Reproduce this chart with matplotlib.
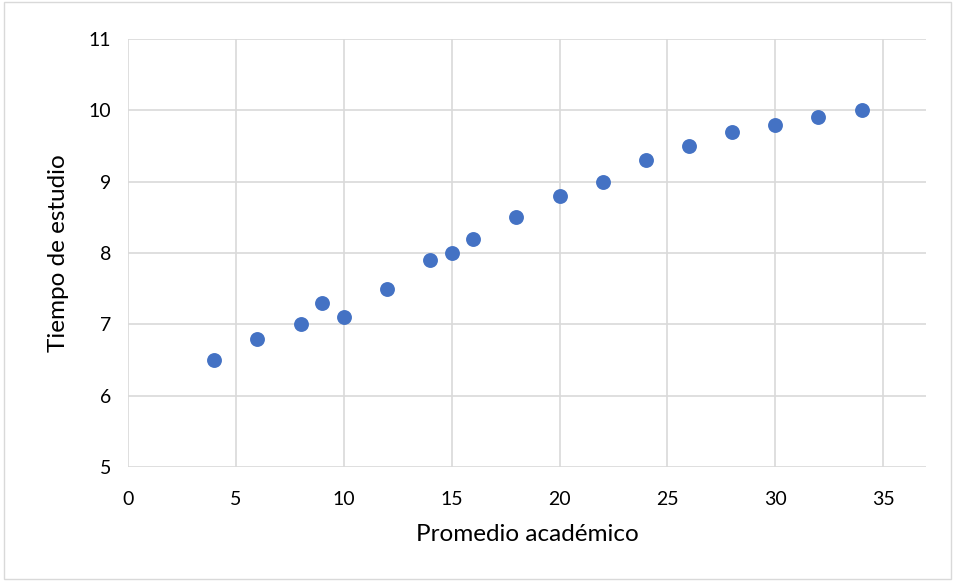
import matplotlib.pyplot as plt
from matplotlib.patches import Rectangle

plt.rcParams['font.family'] = ['Lato', 'DejaVu Sans']

promedio = [4, 6, 8, 9, 10, 12, 14, 15, 16, 18, 20, 22, 24, 26, 28, 30, 32, 34]
tiempo = [6.5, 6.8, 7.0, 7.3, 7.1, 7.5, 7.9, 8.0, 8.2, 8.5, 8.8, 9.0, 9.3, 9.5, 9.7, 9.8, 9.9, 10.0]

fig = plt.figure(figsize=(9.55, 5.81), dpi=100)
ax = fig.add_axes([0.134, 0.196, 0.836, 0.737])

ax.scatter(promedio, tiempo, s=115, color='#4472C4', zorder=3, linewidths=0)

ax.set_xlim(0, 37)
ax.set_ylim(5, 11)
ax.set_xticks(range(0, 36, 5))
ax.set_yticks(range(5, 12))
ax.grid(True, color='#D9D9D9', linewidth=1.2)
for s in ax.spines.values():
    s.set_visible(False)
ax.tick_params(length=0, labelsize=14, colors='black')
ax.tick_params(axis='x', pad=17)
ax.tick_params(axis='y', pad=12)
ax.set_xlabel('Promedio académico', fontsize=17.5, labelpad=12)
ax.set_ylabel('Tiempo de estudio', fontsize=17.5, labelpad=14)

fig.patches.append(Rectangle((0.004, 0.004), 0.992, 0.992, transform=fig.transFigure,
                             fill=False, edgecolor='#D9D9D9', linewidth=1))

fig.savefig('out.png', dpi=100)
